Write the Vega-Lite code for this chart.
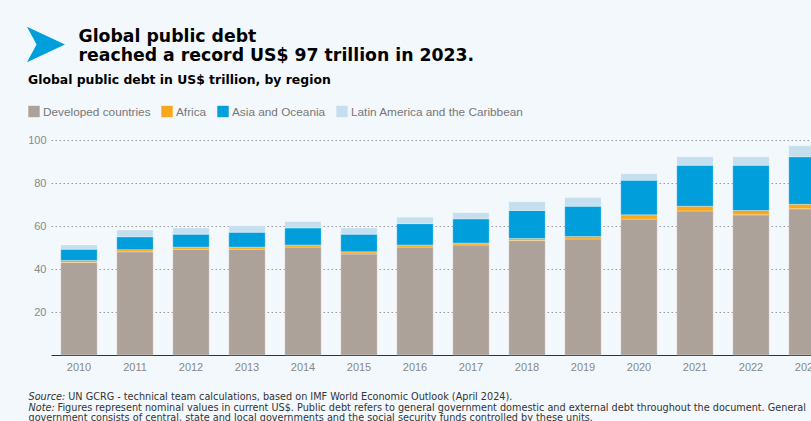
{
  "$schema": "https://vega.github.io/schema/vega-lite/v6.json",
  "width": 784,
  "height": 215,
  "padding": {"left": 20, "top": 16, "right": 0, "bottom": 0},
  "background": "#f3f8fc",
  "config": {
    "font": "Liberation Sans",
    "view": {"stroke": null}
  },
  "title": {
    "text": ["\u200b\u2003\u2003\u2003\u00a0Global public debt", "\u200b\u2003\u2003\u2003\u00a0reached a record US$ 97 trillion in 2023."],
    "subtitle": "➤",
    "anchor": "start",
    "frame": "bounds",
    "dx": -7,
    "font": "DejaVu Sans",
    "fontSize": 17.3,
    "fontWeight": "bold",
    "color": "#000000",
    "lineHeight": 18.5,
    "subtitleFont": "DejaVu Sans",
    "subtitleFontSize": 56,
    "subtitleColor": "#009edb",
    "subtitlePadding": -46,
    "offset": -10
  },
  "data": {
    "values": [
      {"year": "2010", "region": "Developed countries", "region_order": 1, "value": 43.0},
      {"year": "2010", "region": "Africa", "region_order": 2, "value": 1.0},
      {"year": "2010", "region": "Asia and Oceania", "region_order": 3, "value": 5.2},
      {"year": "2010", "region": "Latin America and the Caribbean", "region_order": 4, "value": 2.0},
      {"year": "2011", "region": "Developed countries", "region_order": 1, "value": 48.0},
      {"year": "2011", "region": "Africa", "region_order": 2, "value": 1.0},
      {"year": "2011", "region": "Asia and Oceania", "region_order": 3, "value": 6.0},
      {"year": "2011", "region": "Latin America and the Caribbean", "region_order": 4, "value": 3.1},
      {"year": "2012", "region": "Developed countries", "region_order": 1, "value": 49.2},
      {"year": "2012", "region": "Africa", "region_order": 2, "value": 1.0},
      {"year": "2012", "region": "Asia and Oceania", "region_order": 3, "value": 6.0},
      {"year": "2012", "region": "Latin America and the Caribbean", "region_order": 4, "value": 2.9},
      {"year": "2013", "region": "Developed countries", "region_order": 1, "value": 49.2},
      {"year": "2013", "region": "Africa", "region_order": 2, "value": 1.0},
      {"year": "2013", "region": "Asia and Oceania", "region_order": 3, "value": 6.9},
      {"year": "2013", "region": "Latin America and the Caribbean", "region_order": 4, "value": 3.0},
      {"year": "2014", "region": "Developed countries", "region_order": 1, "value": 50.2},
      {"year": "2014", "region": "Africa", "region_order": 2, "value": 1.0},
      {"year": "2014", "region": "Asia and Oceania", "region_order": 3, "value": 7.9},
      {"year": "2014", "region": "Latin America and the Caribbean", "region_order": 4, "value": 3.0},
      {"year": "2015", "region": "Developed countries", "region_order": 1, "value": 47.0},
      {"year": "2015", "region": "Africa", "region_order": 2, "value": 1.0},
      {"year": "2015", "region": "Asia and Oceania", "region_order": 3, "value": 8.2},
      {"year": "2015", "region": "Latin America and the Caribbean", "region_order": 4, "value": 2.9},
      {"year": "2016", "region": "Developed countries", "region_order": 1, "value": 50.2},
      {"year": "2016", "region": "Africa", "region_order": 2, "value": 1.0},
      {"year": "2016", "region": "Asia and Oceania", "region_order": 3, "value": 9.9},
      {"year": "2016", "region": "Latin America and the Caribbean", "region_order": 4, "value": 3.0},
      {"year": "2017", "region": "Developed countries", "region_order": 1, "value": 51.2},
      {"year": "2017", "region": "Africa", "region_order": 2, "value": 0.9},
      {"year": "2017", "region": "Asia and Oceania", "region_order": 3, "value": 11.2},
      {"year": "2017", "region": "Latin America and the Caribbean", "region_order": 4, "value": 2.9},
      {"year": "2018", "region": "Developed countries", "region_order": 1, "value": 53.2},
      {"year": "2018", "region": "Africa", "region_order": 2, "value": 1.0},
      {"year": "2018", "region": "Asia and Oceania", "region_order": 3, "value": 13.0},
      {"year": "2018", "region": "Latin America and the Caribbean", "region_order": 4, "value": 4.1},
      {"year": "2019", "region": "Developed countries", "region_order": 1, "value": 54.0},
      {"year": "2019", "region": "Africa", "region_order": 2, "value": 1.1},
      {"year": "2019", "region": "Asia and Oceania", "region_order": 3, "value": 14.1},
      {"year": "2019", "region": "Latin America and the Caribbean", "region_order": 4, "value": 4.0},
      {"year": "2020", "region": "Developed countries", "region_order": 1, "value": 63.2},
      {"year": "2020", "region": "Africa", "region_order": 2, "value": 2.0},
      {"year": "2020", "region": "Asia and Oceania", "region_order": 3, "value": 16.1},
      {"year": "2020", "region": "Latin America and the Caribbean", "region_order": 4, "value": 3.0},
      {"year": "2021", "region": "Developed countries", "region_order": 1, "value": 67.0},
      {"year": "2021", "region": "Africa", "region_order": 2, "value": 2.2},
      {"year": "2021", "region": "Asia and Oceania", "region_order": 3, "value": 19.0},
      {"year": "2021", "region": "Latin America and the Caribbean", "region_order": 4, "value": 4.0},
      {"year": "2022", "region": "Developed countries", "region_order": 1, "value": 65.2},
      {"year": "2022", "region": "Africa", "region_order": 2, "value": 2.0},
      {"year": "2022", "region": "Asia and Oceania", "region_order": 3, "value": 21.0},
      {"year": "2022", "region": "Latin America and the Caribbean", "region_order": 4, "value": 4.0},
      {"year": "2023", "region": "Developed countries", "region_order": 1, "value": 68.0},
      {"year": "2023", "region": "Africa", "region_order": 2, "value": 2.1},
      {"year": "2023", "region": "Asia and Oceania", "region_order": 3, "value": 22.1},
      {"year": "2023", "region": "Latin America and the Caribbean", "region_order": 4, "value": 5.1}
    ]
  },
  "mark": {"type": "bar", "stroke": "#ffffff", "strokeWidth": 0.5, "strokeOpacity": 0.6},
  "encoding": {
    "x": {
      "field": "year",
      "type": "ordinal",
      "scale": {"paddingInner": 0.35, "paddingOuter": 0.175},
      "axis": {
        "labelAngle": 0,
        "ticks": false,
        "domainColor": "#333333",
        "domainWidth": 1,
        "labelPadding": 6,
        "labelColor": "#888888",
        "labelFontSize": 11,
        "labelFont": "Liberation Sans",
        "title": [
          "\u200b\u2003\u2003\u2003\u2003\u200aUN GCRG - technical team calculations, based on IMF World Economic Outlook (April 2024).",
          "\u200b\u2003\u2003\u2003Figures represent nominal values in current US$. Public debt refers to general government domestic and external debt throughout the document. General",
          "government consists of central, state and local governments and the social security funds controlled by these units."
        ],
        "titleFont": "DejaVu Sans",
        "titleFontSize": 9.7,
        "titleFontWeight": "normal",
        "titleColor": "#333333",
        "titleAnchor": "start",
        "titleAlign": "left",
        "titleBaseline": "alphabetic",
        "titleLineHeight": 10.7,
        "titleX": -23,
        "titleY": 44.5
      }
    },
    "y": {
      "field": "value",
      "type": "quantitative",
      "stack": "zero",
      "scale": {"domain": [0, 100], "nice": false},
      "axis": {
        "values": [20, 40, 60, 80, 100],
        "grid": true,
        "gridDash": [1.5, 2.5],
        "gridColor": "#999999",
        "gridWidth": 1,
        "domain": false,
        "ticks": false,
        "labelPadding": 5,
        "labelColor": "#888888",
        "labelFontSize": 11,
        "labelFont": "Liberation Sans",
        "title": ["Source:", "Note:"],
        "titleFont": "DejaVu Sans",
        "titleFontSize": 9.7,
        "titleFontWeight": "normal",
        "titleFontStyle": "italic",
        "titleColor": "#333333",
        "titleAngle": 0,
        "titleAnchor": "start",
        "titleAlign": "left",
        "titleBaseline": "alphabetic",
        "titleLineHeight": 10.7,
        "titleX": -23,
        "titleY": 259.5
      }
    },
    "color": {
      "field": "region",
      "type": "nominal",
      "sort": ["Developed countries", "Africa", "Asia and Oceania", "Latin America and the Caribbean"],
      "scale": {
        "domain": ["Developed countries", "Africa", "Asia and Oceania", "Latin America and the Caribbean"],
        "range": ["#ada29a", "#f9a81b", "#009edb", "#c5dfef"]
      },
      "legend": {
        "orient": "none",
        "legendX": -23,
        "legendY": -66,
        "direction": "horizontal",
        "title": "Global public debt in US$ trillion, by region",
        "titleFont": "DejaVu Sans",
        "titleFontSize": 12.4,
        "titleFontWeight": "bold",
        "titleColor": "#000000",
        "titlePadding": 19,
        "titleLimit": 600,
        "symbolType": "square",
        "symbolSize": 130,
        "symbolStrokeWidth": 0,
        "symbolOpacity": 1,
        "labelFont": "Liberation Sans",
        "labelFontSize": 11.8,
        "labelColor": "#777777",
        "labelOffset": 3,
        "labelLimit": 300,
        "columnPadding": 10
      }
    },
    "order": {"field": "region_order", "type": "quantitative", "sort": "ascending"}
  }
}
